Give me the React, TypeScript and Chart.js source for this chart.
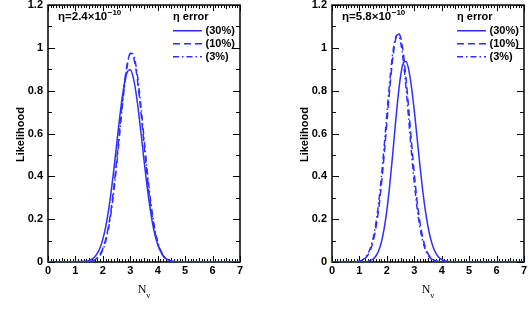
import React, { useEffect, useRef } from "react";
import { Chart, registerables } from "chart.js";

Chart.register(...registerables);

const BLUE = "#2e2eff";
const SANS = '"Liberation Sans", Arial, Helvetica, sans-serif';
const SERIF = '"Liberation Serif", "Times New Roman", serif';

// ---- text ----
const xTickLabels = ["0", "1", "2", "3", "4", "5", "6", "7"];
const yTickLabels = ["0", "0.2", "0.4", "0.6", "0.8", "1", "1.2"];
const seriesLabels = ["(30%)", "(10%)", "(3%)"];
const legendTitle = "\u03b7 error";
const yTitle = "Likelihood";
const xTitleMain = "N";
const xTitleSub = "\u03bd";
const etaLeft = "2.4";
const etaRight = "5.8";
const etaExponent = "\u221210";

// ---- left panel (eta = 2.4e-10) ----
const nuLeft = [0, 1.4, 1.5, 1.6, 1.7, 1.8, 1.9, 2.0, 2.1, 2.2, 2.3, 2.4, 2.5, 2.6, 2.7, 2.8, 2.9, 3.0, 3.1, 3.2, 3.3, 3.4, 3.5, 3.6, 3.7, 3.8, 3.9, 4.0, 4.1, 4.2, 4.3, 4.4, 4.5, 4.6, 4.7, 4.8, 7];
const left30 = [0, 0.003, 0.007, 0.013, 0.023, 0.041, 0.067, 0.107, 0.162, 0.235, 0.326, 0.431, 0.546, 0.66, 0.763, 0.843, 0.89, 0.898, 0.866, 0.798, 0.703, 0.592, 0.476, 0.367, 0.27, 0.189, 0.127, 0.082, 0.05, 0.029, 0.016, 0.009, 0.004, 0.002, 0.001, 0, 0];
const left10 = [0, 0.001, 0.002, 0.005, 0.01, 0.02, 0.036, 0.063, 0.104, 0.164, 0.246, 0.35, 0.472, 0.605, 0.736, 0.85, 0.933, 0.973, 0.963, 0.905, 0.808, 0.685, 0.551, 0.421, 0.306, 0.211, 0.138, 0.086, 0.051, 0.028, 0.015, 0.008, 0.004, 0.002, 0.001, 0, 0];
const left3 = [0, 0.001, 0.002, 0.004, 0.009, 0.017, 0.032, 0.057, 0.095, 0.151, 0.229, 0.329, 0.448, 0.58, 0.713, 0.832, 0.923, 0.975, 0.973, 0.923, 0.832, 0.713, 0.58, 0.448, 0.329, 0.229, 0.151, 0.095, 0.057, 0.032, 0.017, 0.009, 0.004, 0.002, 0.001, 0, 0];

// ---- right panel (eta = 5.8e-10) ----
const nuRight = [0, 0.8, 0.9, 1.0, 1.1, 1.2, 1.3, 1.4, 1.5, 1.6, 1.7, 1.8, 1.9, 2.0, 2.1, 2.2, 2.3, 2.4, 2.5, 2.6, 2.7, 2.8, 2.9, 3.0, 3.1, 3.2, 3.3, 3.4, 3.5, 3.6, 3.7, 3.8, 3.9, 4.0, 4.1, 4.2, 4.3, 4.4, 4.5, 7];
const right30 = [0, 0, 0, 0, 0.0005, 0.001, 0.003, 0.007, 0.014, 0.028, 0.053, 0.093, 0.155, 0.241, 0.353, 0.485, 0.627, 0.761, 0.868, 0.93, 0.936, 0.896, 0.815, 0.707, 0.583, 0.457, 0.342, 0.243, 0.165, 0.106, 0.065, 0.038, 0.021, 0.011, 0.006, 0.003, 0.001, 0, 0, 0];
const right10 = [0, 0.0003, 0.001, 0.004, 0.008, 0.016, 0.031, 0.056, 0.097, 0.159, 0.246, 0.36, 0.497, 0.649, 0.8, 0.933, 1.027, 1.069, 1.051, 0.976, 0.857, 0.711, 0.557, 0.412, 0.288, 0.191, 0.119, 0.07, 0.039, 0.021, 0.01, 0.005, 0.002, 0.001, 0, 0, 0, 0, 0, 0];
const right3 = [0, 0.0005, 0.001, 0.004, 0.009, 0.019, 0.037, 0.066, 0.113, 0.181, 0.276, 0.396, 0.538, 0.691, 0.838, 0.96, 1.039, 1.063, 1.027, 0.938, 0.81, 0.66, 0.508, 0.37, 0.255, 0.166, 0.102, 0.059, 0.032, 0.017, 0.008, 0.004, 0.002, 0.001, 0, 0, 0, 0, 0, 0];

const dashes: number[][] = [[], [7, 4], [6, 3, 1.5, 3]];

type PanelProps = {
  nu: number[];
  series: number[][];
  eta: string;
  left: number;
  yWidth: number;
  padRight: number;
};

function Panel({ nu, series, eta, left, yWidth, padRight }: PanelProps) {
  const ref = useRef<HTMLCanvasElement>(null);

  useEffect(() => {
    const decor = {
      id: "decor",
      beforeDatasetsDraw(chart: any) {
        const { ctx, chartArea } = chart;
        const { left: l, right: r, top: t, bottom: b } = chartArea;
        const xs = chart.scales.x;
        const ys = chart.scales.y;
        ctx.save();
        ctx.strokeStyle = "#000";
        ctx.lineWidth = 1.5;
        ctx.strokeRect(l, t, r - l, b - t);
        ctx.lineWidth = 1;
        ctx.beginPath();
        xs.ticks.forEach((tk: any) => {
          const p = Math.round(xs.getPixelForValue(tk.value)) + 0.5;
          const major = Math.abs(tk.value - Math.round(tk.value)) < 1e-6;
          const half = Math.abs(tk.value * 2 - Math.round(tk.value * 2)) < 1e-6;
          const L = major ? 6 : half ? 4 : 3;
          ctx.moveTo(p, b);
          ctx.lineTo(p, b - L);
          ctx.moveTo(p, t);
          ctx.lineTo(p, t + L);
        });
        ys.ticks.forEach((tk: any) => {
          const p = Math.round(ys.getPixelForValue(tk.value)) + 0.5;
          const major = Math.round(tk.value * 10) % 2 === 0;
          const L = major ? 7 : 4;
          ctx.moveTo(l, p);
          ctx.lineTo(l + L, p);
          ctx.moveTo(r, p);
          ctx.lineTo(r - L, p);
        });
        ctx.stroke();
        ctx.restore();
      },
      afterDraw(chart: any) {
        const { ctx, chartArea } = chart;
        const { left: l, right: r, top: t, bottom: b } = chartArea;
        ctx.save();
        ctx.fillStyle = "#000";
        ctx.textAlign = "left";
        ctx.textBaseline = "alphabetic";
        // eta annotation
        ctx.font = `bold 11.5px ${SANS}`;
        const main = `\u03b7=${eta}\u00d710`;
        const x0 = l + 10;
        const yb = t + 15;
        ctx.fillText(main, x0, yb);
        const w = ctx.measureText(main).width;
        ctx.font = `bold 8px ${SANS}`;
        ctx.fillText(etaExponent, x0 + w + 0.5, yb - 5);
        // legend
        ctx.font = `bold 11px ${SANS}`;
        ctx.fillText(legendTitle, r - 67, t + 15);
        chart.data.datasets.forEach((ds: any, i: number) => {
          const yy = t + 25.7 + i * 13;
          ctx.save();
          ctx.strokeStyle = ds.borderColor;
          ctx.lineWidth = ds.borderWidth;
          ctx.setLineDash(ds.borderDash || []);
          ctx.beginPath();
          ctx.moveTo(r - 67, yy);
          ctx.lineTo(r - 38, yy);
          ctx.stroke();
          ctx.restore();
          ctx.textBaseline = "middle";
          ctx.fillText(ds.label, r - 34.5, yy + 0.5);
        });
        // y title
        ctx.save();
        ctx.translate(l - 27, (t + b) / 2 + 1);
        ctx.rotate(-Math.PI / 2);
        ctx.textAlign = "center";
        ctx.textBaseline = "middle";
        ctx.font = `bold 11px ${SANS}`;
        ctx.fillText(yTitle, 0, 0);
        ctx.restore();
        // x title
        ctx.textBaseline = "alphabetic";
        ctx.font = `12px ${SERIF}`;
        const wN = ctx.measureText(xTitleMain).width;
        ctx.font = `9px ${SERIF}`;
        const wS = ctx.measureText(xTitleSub).width;
        const cx = (l + r) / 2;
        const sx = cx - (wN + wS) / 2;
        ctx.font = `12px ${SERIF}`;
        ctx.fillText(xTitleMain, sx, 293);
        ctx.font = `9px ${SERIF}`;
        ctx.fillText(xTitleSub, sx + wN, 298);
        ctx.restore();
      },
    };

    const datasets = series.map((vals, i) => ({
      label: seriesLabels[i],
      data: nu.map((x, k) => ({ x, y: vals[k] })),
      borderColor: BLUE,
      backgroundColor: BLUE,
      borderWidth: 1.5,
      borderDash: dashes[i],
      pointRadius: 0,
      fill: false,
      cubicInterpolationMode: "monotone" as const,
    }));

    const chart = new Chart(ref.current as HTMLCanvasElement, {
      type: "line",
      data: { datasets },
      plugins: [decor],
      options: {
        responsive: false,
        animation: false,
        events: [],
        layout: { padding: { left: 0, right: padRight, top: 5, bottom: 0 } },
        plugins: { legend: { display: false }, tooltip: { enabled: false } },
        scales: {
          x: {
            type: "linear",
            min: 0,
            max: 7,
            afterFit: (s: any) => {
              s.height = 65;
            },
            grid: { display: false, drawTicks: false },
            border: { display: false },
            ticks: {
              stepSize: 0.1,
              autoSkip: false,
              maxRotation: 0,
              minRotation: 0,
              padding: 0,
              color: "#000",
              font: { family: SANS, size: 11, weight: "bold", lineHeight: 1.58 },
              callback: (v: any) => {
                const n = Number(v);
                return Math.abs(n - Math.round(n)) < 1e-6 ? xTickLabels[Math.round(n)] : "";
              },
            },
          },
          y: {
            type: "linear",
            min: 0,
            max: 1.2,
            afterFit: (s: any) => {
              s.width = yWidth;
            },
            grid: { display: false, drawTicks: false },
            border: { display: false },
            ticks: {
              stepSize: 0.1,
              autoSkip: false,
              padding: 5,
              color: "#000",
              font: { family: SANS, size: 11, weight: "bold", lineHeight: 0.01 },
              callback: (v: any) => {
                const k = Math.round(Number(v) * 10);
                return k % 2 === 0 ? yTickLabels[k / 2] : "";
              },
            },
          },
        },
      } as any,
    });
    return () => chart.destroy();
  }, []);

  return (
    <canvas
      ref={ref}
      width={264}
      height={327}
      style={{ position: "absolute", left, top: 0, width: 264, height: 327 }}
    />
  );
}

export default function App() {
  return (
    <div
      style={{
        position: "fixed",
        left: 0,
        top: 0,
        width: 528,
        height: 327,
        background: "#fff",
        overflow: "hidden",
      }}
    >
      <Panel nu={nuLeft} series={[left30, left10, left3]} eta={etaLeft} left={0} yWidth={48} padRight={24} />
      <Panel nu={nuRight} series={[right30, right10, right3]} eta={etaRight} left={264} yWidth={68} padRight={4} />
    </div>
  );
}
